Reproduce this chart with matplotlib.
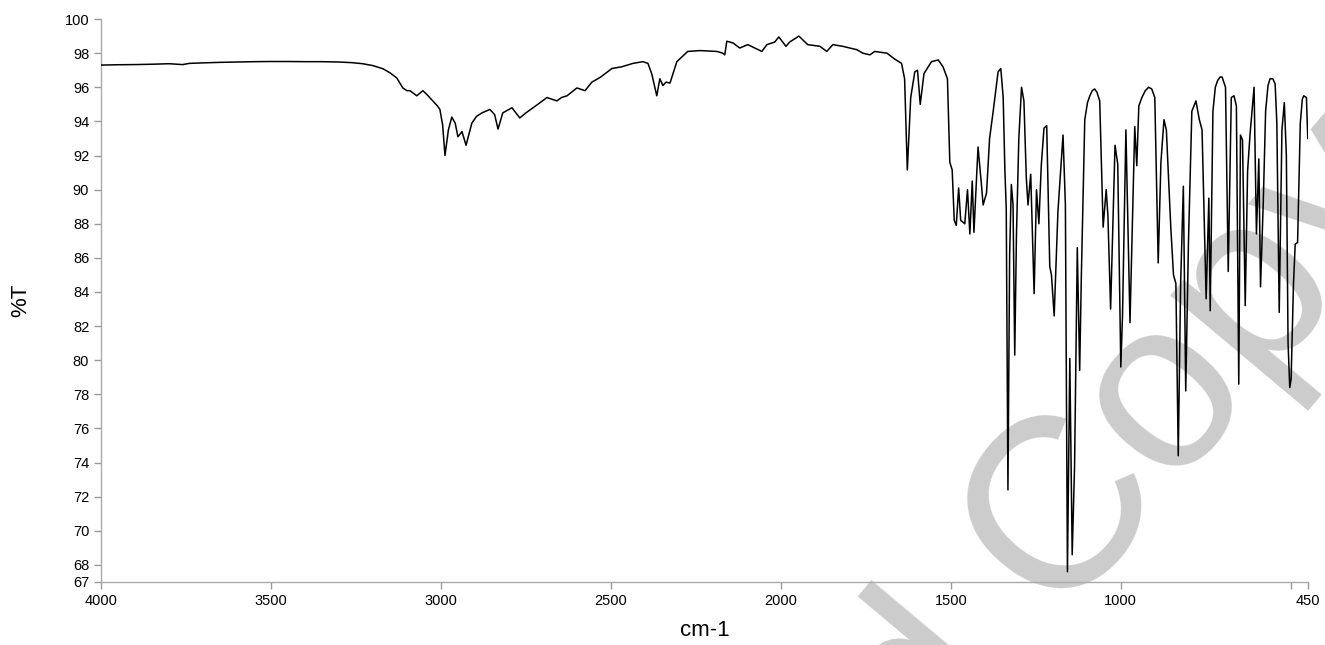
"""IR spectrum (%T vs wavenumber) with grey 'Copy' watermark."""
import matplotlib
matplotlib.use("Agg")
import matplotlib.pyplot as plt

matplotlib.rcParams.update({
    "font.family": "Liberation Sans", "font.size": 10,
    "axes.linewidth": 1, "xtick.direction": "out", "ytick.direction": "out",
    "xtick.major.size": 5, "ytick.major.size": 5,
})

# --- spectrum (cm-1, %T) ---
wavenumber = [
    4000, 3950, 3900, 3850, 3800, 3760, 3740, 3700, 3650, 3600, 3550, 3500,
    3450, 3400, 3350, 3300, 3260, 3230, 3200, 3170, 3150, 3130, 3112, 3100,
    3091, 3071, 3053, 3040, 3026, 3010, 3003, 2995, 2988, 2978, 2968, 2958,
    2950, 2938, 2926, 2909, 2895, 2879, 2856, 2842, 2832, 2818, 2791, 2768,
    2750, 2729, 2708, 2688, 2659, 2645, 2629, 2600, 2576, 2556, 2530, 2497,
    2468, 2435, 2406, 2391, 2380, 2365, 2356, 2347, 2338, 2326, 2306, 2274,
    2238, 2188, 2171, 2165, 2159, 2141, 2121, 2097, 2082, 2056, 2041, 2018,
    2006, 1985, 1974, 1947, 1921, 1885, 1865, 1847, 1818, 1776, 1759, 1738,
    1724, 1688, 1665, 1645, 1636, 1628, 1618, 1606, 1598, 1590, 1579, 1557,
    1537, 1523, 1510, 1503, 1496, 1490, 1484, 1477, 1471, 1459, 1451, 1444,
    1437, 1432, 1420, 1410, 1405, 1395, 1386, 1376, 1361, 1353, 1346, 1341,
    1337, 1332, 1327, 1322, 1317, 1312, 1307, 1300, 1292, 1285, 1278, 1273,
    1265, 1255, 1248, 1241, 1234, 1226, 1218, 1209, 1204, 1196, 1185, 1170,
    1163, 1157, 1150, 1143, 1136, 1128, 1121, 1116, 1106, 1098, 1091, 1084,
    1077, 1070, 1062, 1052, 1043, 1038, 1030, 1017, 1009, 1000, 995, 985,
    973, 959, 953, 947, 938, 928, 918, 909, 900, 890, 882, 873, 866, 853,
    845, 838, 831, 824, 816, 809, 801, 791, 779, 769, 761, 749, 741, 737,
    729, 722, 715, 708, 702, 692, 684, 675, 667, 660, 653, 648, 642, 634,
    627, 620, 608, 601, 594, 589, 581, 574, 567, 561, 553, 546, 541, 534,
    526, 519, 513, 508, 503, 499, 492, 487, 480, 472, 466, 462, 454, 450,
]
transmittance = [
    97.30, 97.32, 97.33, 97.35, 97.38, 97.33, 97.40, 97.43, 97.46, 97.48, 97.50, 97.51,
    97.51, 97.50, 97.50, 97.48, 97.44, 97.38, 97.27, 97.08, 96.85, 96.55, 95.96, 95.80,
    95.80, 95.50, 95.80, 95.55, 95.25, 94.90, 94.70, 93.80, 92.00, 93.50, 94.25, 93.90,
    93.10, 93.40, 92.60, 93.90, 94.30, 94.50, 94.70, 94.40, 93.55, 94.50, 94.80, 94.20,
    94.50, 94.80, 95.10, 95.40, 95.20, 95.40, 95.50, 95.96, 95.80, 96.30, 96.60, 97.10,
    97.20, 97.40, 97.50, 97.40, 96.80, 95.50, 96.50, 96.10, 96.30, 96.25, 97.50, 98.10,
    98.15, 98.10, 98.00, 97.90, 98.70, 98.60, 98.30, 98.50, 98.35, 98.10, 98.50, 98.65,
    98.95, 98.40, 98.65, 99.00, 98.50, 98.40, 98.10, 98.50, 98.40, 98.20, 98.00, 97.90,
    98.10, 98.00, 97.65, 97.40, 96.50, 91.15, 95.40, 96.90, 97.00, 95.00, 96.80, 97.50,
    97.60, 97.20, 96.50, 91.60, 91.15, 88.20, 87.90, 90.10, 88.20, 88.00, 90.00, 87.40,
    90.50, 87.50, 92.50, 90.30, 89.10, 89.80, 93.00, 94.50, 96.90, 97.10, 95.40, 91.15,
    88.90, 72.40, 86.20, 90.30, 89.10, 80.30, 87.30, 93.00, 96.00, 95.20, 90.70, 89.10,
    90.90, 83.90, 90.00, 88.00, 91.40, 93.60, 93.75, 85.50, 85.00, 82.60, 88.70, 93.20,
    89.10, 67.60, 80.10, 68.60, 73.80, 86.60, 79.40, 85.00, 94.10, 95.10, 95.50, 95.80,
    95.90, 95.70, 95.20, 87.80, 90.00, 88.50, 83.00, 92.60, 91.50, 79.60, 82.60, 93.50,
    82.20, 93.70, 91.40, 94.90, 95.40, 95.80, 96.00, 95.90, 95.40, 85.70, 91.60, 94.10,
    93.50, 87.80, 85.00, 84.50, 74.40, 84.50, 90.20, 78.20, 86.90, 94.60, 95.20, 94.10,
    93.50, 83.60, 89.50, 82.90, 94.60, 96.00, 96.40, 96.60, 96.60, 96.00, 85.20, 95.40,
    95.50, 94.90, 78.60, 93.20, 92.90, 83.20, 91.10, 93.20, 96.00, 87.40, 91.80, 84.30,
    89.20, 94.60, 96.10, 96.50, 96.50, 96.20, 93.90, 82.80, 93.50, 95.10, 92.00, 81.00,
    78.40, 78.90, 84.50, 86.80, 86.90, 93.90, 95.30, 95.50, 95.40, 93.00,
]

x_ticks = [4000, 3500, 3000, 2500, 2000, 1500, 1000, 500, 450]
x_labels = ["4000", "3500", "3000", "2500", "2000", "1500", "1000", "", "450"]
y_ticks = [67] + list(range(68, 101, 2))

fig = plt.figure(figsize=(13.25, 6.45), dpi=100)
ax = fig.add_axes([0.0762, 0.0977, 0.9108, 0.8728])

ax.plot(wavenumber, transmittance, color="black", linewidth=1.1, zorder=3)

ax.set_xlim(4000, 450)
ax.set_ylim(67, 100)
ax.set_xticks(x_ticks)
ax.set_xticklabels(x_labels)
ax.set_yticks(y_ticks)
ax.tick_params(colors="#999999", labelcolor="black", labelsize=10.5, width=1)
for side in ("top", "right"):
    ax.spines[side].set_visible(False)
for side in ("left", "bottom"):
    ax.spines[side].set_color("#aaaaaa")

ax.set_xlabel("cm-1", fontsize=16, labelpad=9)
ax.set_ylabel("%T", fontsize=16, labelpad=24)

# watermark, partly outside the axes
wm = dict(fontsize=175, color="#cccccc", rotation=50, rotation_mode="anchor",
          va="baseline", transform=fig.transFigure, zorder=1, clip_on=False)
ax.text(0.797, 0.042, "Copy", ha="left", **wm)
ax.text(0.7645, -0.039, "Controlled", ha="right", **wm)

fig.savefig("out.png", dpi=100)
